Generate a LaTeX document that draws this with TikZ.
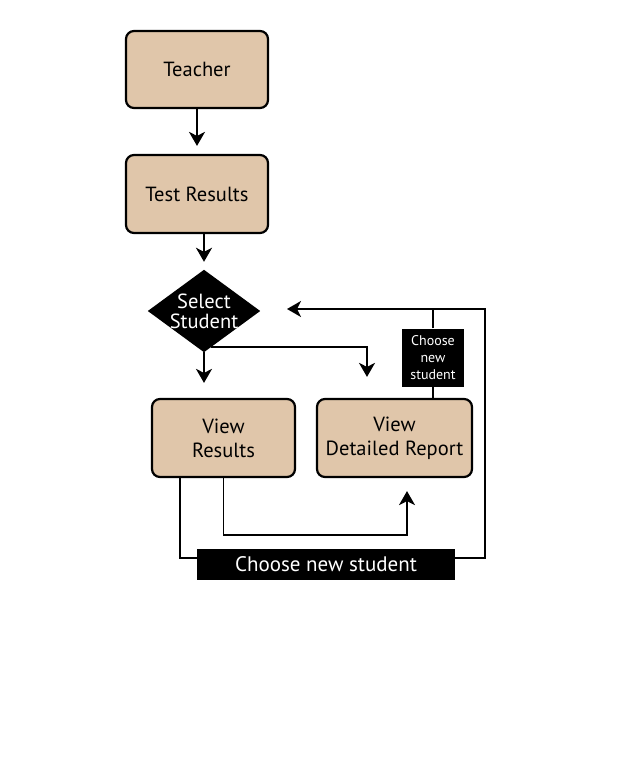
\documentclass[tikz,border=0pt]{standalone}
\usepackage{fontspec}
\setmainfont{PT Sans}
\usetikzlibrary{shapes.geometric,arrows.meta,calc}
\definecolor{boxfill}{RGB}{224,198,170}
\tikzset{
  x=1pt,y=-1pt,
  procbox/.style={draw=black,line width=2.2pt,fill=boxfill,rounded corners=8pt,
    inner sep=0pt,align=center,font=\fontsize{20.5}{24}\selectfont},
  decbox/.style={rectangle,text=white,inner sep=0pt,align=center,
    font=\fontsize{20.5}{20}\selectfont},
  tagbox/.style={fill=black,text=white,inner sep=0pt,align=center},
  conn/.style={line width=1.9pt},
  arr/.style={conn,-{Stealth[length=14pt,width=16pt,inset=4pt]}},
}
\begin{document}
\begin{tikzpicture}
\useasboundingbox (0,0) rectangle (634,766);
\node[procbox,minimum width=142pt,minimum height=77pt] (teacher) at (197,69.5) {Teacher};
\node[procbox,minimum width=142pt,minimum height=78pt] (test) at (197,194) {Test Results};
\node[decbox,minimum width=112pt,minimum height=82pt] (sel) at (204,311) {};
\fill[black] (sel.north) -- (sel.east) -- (sel.south) -- (sel.west) -- cycle;
\node[decbox] (seltext) at (sel.center) {Select\\Student};
\node[procbox,minimum width=143pt,minimum height=78pt] (vr) at (223.5,438) {View\\Results};
\node[procbox,minimum width=155pt,minimum height=78pt] (vd) at (394.5,438) {View\\Detailed Report};
\node[tagbox,minimum width=62pt,minimum height=58pt,font=\fontsize{14}{17}\selectfont] (cn1) at (433,357.5) {Choose\\new\\student};
\node[tagbox,minimum width=258pt,minimum height=31pt,font=\fontsize{21}{22}\selectfont] (cn2) at (326,564.5) {Choose new student};
\coordinate (ret) at (287,309);
\coordinate (rc) at (485,558);
\coordinate (mid) at (407,535);
% connectors
\draw[arr,shorten >=8pt] (teacher.south) -- (test.north);
\draw[arr,shorten >=8pt] (test.south -| sel.north) -- (sel.north);
\draw[arr,shorten >=15pt] (sel.south) -- (sel.south |- vr.north);
\draw[arr,shorten >=21pt] ($(sel.south)+(7,-5)$) -| ([xshift=-27.5pt]vd.north);
\draw[conn] (cn1.south |- vd.north) -- (cn1.south);
\draw[arr] (cn1.north) |- (ret);
\draw[conn] (cn1.north |- ret) -| (rc) -- (rc -| cn2.east);
\draw[conn] ([xshift=-43.5pt]vr.south) |- (rc -| cn2.west);
\draw[arr,shorten >=13pt] (vr.south) |- (mid) -- (mid |- vd.south);
\end{tikzpicture}
\end{document}
